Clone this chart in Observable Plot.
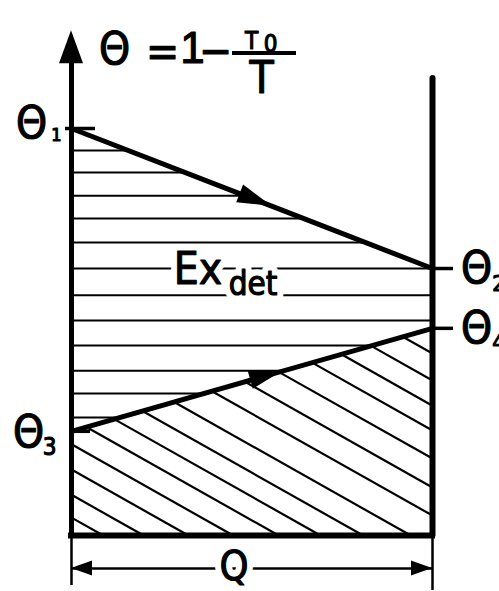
<!DOCTYPE html>
<html>
<head>
<meta charset="utf-8">
<script src="https://cdn.jsdelivr.net/npm/d3@7"></script>
<script src="https://cdn.jsdelivr.net/npm/@observablehq/plot@0.6"></script>
<style>
  html, body { margin: 0; padding: 0; background: #fff; }
  #chart svg { display: block; }
</style>
</head>
<body>
<div id="chart"></div>
<script>
// ---------------- data ----------------
const heatQ = [0, 100];                                   // Q at start / end of the exchange
const thetaSubscripts = ["1", "2", "3", "4"];            // Θ1 … Θ4
const thetaValues = [100, 65.6, 25.6, 50.9];             // Θ1 … Θ4 (relative Carnot factor)
const exergyHatch = [94.6, 89.2, 83.5, 77.9, 72.0, 65.6, 59.0, 52.8, 46.7, 40.5, 34.9, 29.0];
const anergyHatch = [4.4, 10.0, 16.2, 22.4, 28.7, 34.5, 40.4, 47.0, 54.9, 61.8, 68.9, 75.8, 81.9, 88.1, 94.7];
const anergySlope = -0.5;                                 // dΘ/dQ of the diagonal hatching
const flowArrowQ = [55.5, 58.7];                          // where the flow arrows sit on the two lines
const formulaParts = ["Θ", "=", "1", "−", "T", "0", "T"];
const areaLabel = ["Ex", "det"];
const heatLabel = "Q";
const axisTopTheta = 124;                                 // tip of the Θ axis arrow
const wallTopTheta = 112.3;                               // top of the right wall

// ---------------- derived geometry ----------------
const lerp = (a, b, t) => a + (b - a) * t;
const [q0, q1] = heatQ;
const hotAt = q => lerp(thetaValues[0], thetaValues[1], (q - q0) / (q1 - q0));
const coldAt = q => lerp(thetaValues[2], thetaValues[3], (q - q0) / (q1 - q0));
const hot = heatQ.map(q => ({q, theta: hotAt(q)}));
const cold = heatQ.map(q => ({q, theta: coldAt(q)}));
const hs = (thetaValues[1] - thetaValues[0]) / (q1 - q0), h0 = hotAt(0);
const cs = (thetaValues[3] - thetaValues[2]) / (q1 - q0), c0 = coldAt(0);

// interval of q in [q0,q1] where every a + b*q >= 0
function span(constraints) {
  let lo = q0, hi = q1;
  for (const [a, b] of constraints) {
    if (b === 0) { if (a < 0) return null; continue; }
    const r = -a / b;
    if (b > 0) lo = Math.max(lo, r); else hi = Math.min(hi, r);
  }
  return lo < hi ? [lo, hi] : null;
}
const exSegments = exergyHatch.map(h => {
  const s = span([[h0 - h, hs], [h - c0, -cs]]);
  return s && {x1: s[0], x2: s[1], y1: h, y2: h};
}).filter(Boolean);
const anSegments = anergyHatch.map(b => {
  const f = q => b + anergySlope * q;
  const s = span([[b, anergySlope], [c0 - b, cs - anergySlope]]);
  return s && {x1: s[0], x2: s[1], y1: f(s[0]), y2: f(s[1])};
}).filter(Boolean);

// ---------------- custom render marks (arrowheads, fraction bar) ----------------
const NS = "http://www.w3.org/2000/svg";
const dimOffset = 33;
function arrowHeads(index, {x, y}) {
  const g = document.createElementNS(NS, "g");
  const heads = [];
  [[hotAt, flowArrowQ[0]], [coldAt, flowArrowQ[1]]].forEach(([f, q]) => {
    heads.push([x(q), y(f(q)), x(q1) - x(q0), y(f(q1)) - y(f(q0)), 34, 9.5]);
  });
  heads.push([x(q0), y(axisTopTheta), 0, -1, 33, 12]);
  heads.push([x(q0), y(0) + dimOffset, -1, 0, 21, 7.5]);
  heads.push([x(q1), y(0) + dimOffset, 1, 0, 21, 7.5]);
  for (const [tx, ty, ux, uy, L, W] of heads) {
    const n = Math.hypot(ux, uy), dx = ux / n, dy = uy / n;
    const bx = tx - L * dx, by = ty - L * dy;
    const p = document.createElementNS(NS, "path");
    p.setAttribute("d", `M${tx},${ty}L${bx + W * dy},${by - W * dx}L${bx - W * dy},${by + W * dx}Z`);
    p.setAttribute("fill", "black");
    g.appendChild(p);
  }
  return g;
}
function fractionBar() {
  const l = document.createElementNS(NS, "line");
  l.setAttribute("x1", 232); l.setAttribute("x2", 296);
  l.setAttribute("y1", 53); l.setAttribute("y2", 53);
  l.setAttribute("stroke", "black"); l.setAttribute("stroke-width", 4);
  return l;
}

// ---------------- text helpers ----------------
const FONT = "'DejaVu Sans Condensed', 'DejaVu Sans', sans-serif";
const ink = {fill: "black", stroke: "black", strokeWidth: 1.1, strokeLinejoin: "round"};
const formulaStyle = [
  {dx: 114, dy: 63, size: 44},
  {dx: 162, dy: 66, size: 44},
  {dx: 192, dy: 62, size: 44, font: "'Liberation Sans', sans-serif"},
  {dx: 215, dy: 65, size: 44},
  {dx: 251, dy: 48, size: 24},
  {dx: 270, dy: 51, size: 24},
  {dx: 261, dy: 92, size: 44}
];
const formulaMarks = formulaParts.map((t, i) => Plot.text([t], {
  text: d => d, frameAnchor: "top-left", dx: formulaStyle[i].dx, dy: formulaStyle[i].dy,
  fontSize: formulaStyle[i].size, textAnchor: "middle", lineAnchor: "bottom",
  ...(formulaStyle[i].font ? {fontFamily: formulaStyle[i].font} : {}), ...ink
}));
const thetaStyle = [
  {q: q0, dx: -40, dy: 9, sdx: -15, sdy: 12, ss: 18},
  {q: q1, dx: 44, dy: 14, sdx: 66, sdy: 22, ss: 22},
  {q: q0, dx: -43, dy: 16, sdx: -22, sdy: 24, ss: 24},
  {q: q1, dx: 44, dy: 15, sdx: 66, sdy: 22, ss: 22}
];
const thetaMarks = thetaSubscripts.flatMap((s, i) => {
  const st = thetaStyle[i];
  const d = [{q: st.q, theta: thetaValues[i]}];
  return [
    Plot.text(d, {x: "q", y: "theta", text: () => "Θ", dx: st.dx, dy: st.dy, fontSize: 44,
      textAnchor: "middle", lineAnchor: "bottom", ...ink}),
    Plot.text(d, {x: "q", y: "theta", text: () => s, dx: st.sdx, dy: st.sdy, fontSize: st.ss,
      textAnchor: "middle", lineAnchor: "bottom", ...ink})
  ];
});
const halo = {stroke: "white", strokeWidth: 13, strokeLinejoin: "round", fill: "white"};
const qMid = (q0 + q1) / 2;
// a label drawn twice: once as a white halo that breaks the lines, once in ink
function haloLabel(t, o) {
  const base = {x: () => o.x, y: () => o.y, text: d => d, dx: o.dx, dy: o.dy, fontSize: o.size,
    textAnchor: "middle", lineAnchor: "bottom"};
  return [Plot.text([t], {...base, ...halo}), Plot.text([t], {...base, ...ink})];
}

const chart = Plot.plot({
  width: 499,
  height: 591,
  margin: 0,
  style: {background: "white", fontFamily: FONT},
  x: {domain: heatQ, range: [71, 432], axis: null},
  y: {domain: [0, 100], range: [535, 128], axis: null},
  marks: [
    // hatching
    Plot.link(exSegments, {x1: "x1", y1: "y1", x2: "x2", y2: "y2", stroke: "black", strokeWidth: 2}),
    Plot.link(anSegments, {x1: "x1", y1: "y1", x2: "x2", y2: "y2", stroke: "black", strokeWidth: 2.2}),
    // area label (breaks the hatch lines)
    ...haloLabel(areaLabel[0], {x: qMid, y: thetaValues[1], dx: -54, dy: 15, size: 44}),
    ...haloLabel(areaLabel[1], {x: qMid, y: thetaValues[1], dx: 1, dy: 26, size: 33}),
    // process lines
    Plot.line(hot, {x: "q", y: "theta", stroke: "black", strokeWidth: 5, strokeLinecap: "round"}),
    Plot.line(cold, {x: "q", y: "theta", stroke: "black", strokeWidth: 5, strokeLinecap: "round"}),
    // frame
    Plot.ruleY([0], {x1: q0, x2: q1, stroke: "black", strokeWidth: 6, strokeLinecap: "square"}),
    Plot.ruleX([q0], {y1: 0, y2: axisTopTheta - 6, stroke: "black", strokeWidth: 5}),
    Plot.ruleX([q1], {y1: 0, y2: wallTopTheta, stroke: "black", strokeWidth: 6, strokeLinecap: "round"}),
    // extension lines and dimension line for Q
    Plot.ruleX([q0], {y1: 0, y2: 0, insetBottom: -50, stroke: "black", strokeWidth: 2.5}),
    Plot.ruleX([q1], {y1: 0, y2: 0, insetBottom: -55, stroke: "black", strokeWidth: 2.5}),
    Plot.ruleY([0], {x1: q0, x2: q1, dy: dimOffset, stroke: "black", strokeWidth: 2.5}),
    ...haloLabel(heatLabel, {x: qMid, y: 0, dx: -18, dy: 44, size: 41}),
    // level ticks
    Plot.ruleY([thetaValues[0]], {x1: q0, x2: q0, insetLeft: -6, insetRight: -24, stroke: "black", strokeWidth: 3.5}),
    Plot.ruleY([thetaValues[2]], {x1: q0, x2: q0, insetRight: -19, stroke: "black", strokeWidth: 3.5}),
    Plot.ruleY([thetaValues[1], thetaValues[3]], {x1: q1, x2: q1, insetRight: -21, stroke: "black", strokeWidth: 3.5}),
    // arrowheads, formula
    arrowHeads,
    fractionBar,
    ...formulaMarks,
    ...thetaMarks
  ]
});
document.getElementById("chart").appendChild(chart);
</script>
</body>
</html>
